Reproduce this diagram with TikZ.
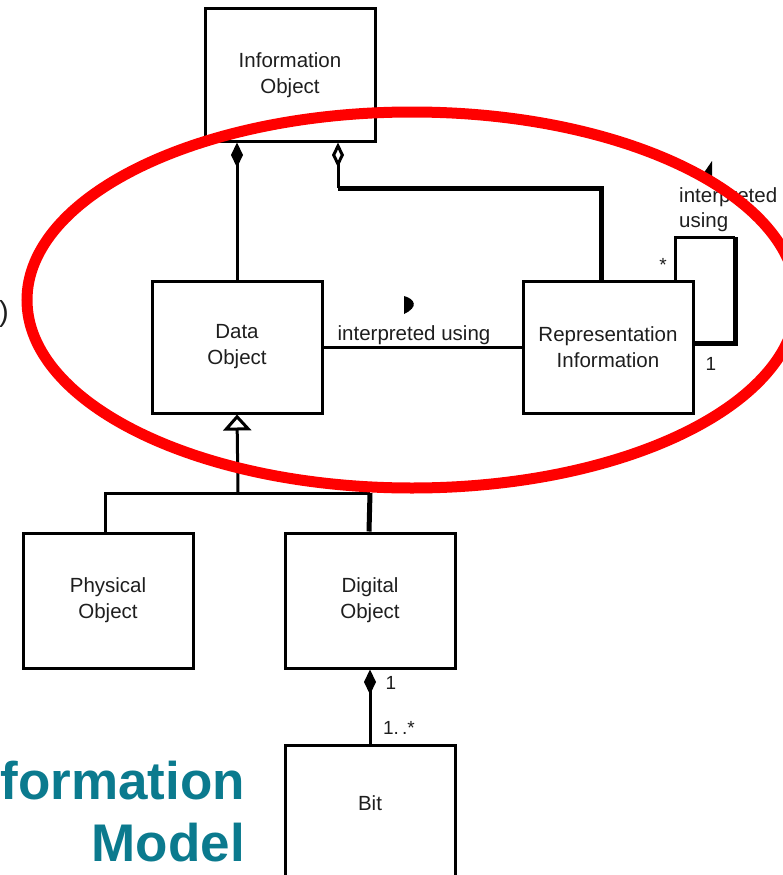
\documentclass[tikz,border=0pt]{standalone}
\usepackage{fontspec}
\setmainfont{Liberation Sans}
\usetikzlibrary{arrows.meta}
\definecolor{ringred}{RGB}{255,0,0}
\definecolor{titleteal}{RGB}{11,122,142}
\definecolor{inkgray}{RGB}{30,30,30}
\begin{document}
\begin{tikzpicture}[x=1pt,y=-1pt,
  cls/.style={draw, line width=3pt, minimum width=170pt, minimum height=132pt,
    align=center, inner sep=0pt, text=inkgray, font=\fontsize{20.5}{26}\selectfont},
  link/.style={line width=3pt},
  heavy/.style={line width=5pt},
  lbl/.style={inner sep=0pt, text=inkgray, font=\fontsize{20.5}{25}\selectfont},
  small/.style={inner sep=0pt, text=inkgray, font=\fontsize{19}{22}\selectfont},
  title/.style={inner sep=0pt, text=titleteal, font=\fontsize{53}{62}\selectfont\bfseries},
  compo/.style={-{Diamond[length=25pt,width=12pt]}},
  aggr/.style={-{Diamond[open,length=25pt,width=12pt]}},
  gen/.style={-{Triangle[open,length=16pt,width=28pt]}}]
\useasboundingbox (0,0) rectangle (782,875);

% classes
\node[cls] (io)  at (290,75)   {Information\\Object};
\node[cls] (do)  at (237,347)  {Data\\Object};
\node[cls] (ri)  at (608,347)  {Representation\\Information};
\node[cls, minimum height=135pt] (po)  at (108,600.5) {Physical\\Object};
\node[cls, minimum height=135pt] (dig) at (370,600.5) {Digital\\Object};
\node[cls, minimum height=140pt] (bit) at (370,815) {};
\node[lbl] (bittext) at (370,803) {Bit};

% Information Object is made of Data Object (composition)
\draw[link,compo] (do.north) -- (do.north |- io.south);

% Information Object aggregates Representation Information
\coordinate (aggtop) at ([xshift=48pt]io.south);
\coordinate (rinode) at ([xshift=-7pt]ri.north);
\coordinate (bend1) at (338,188);
\draw[heavy] (rinode) |- (bend1);
\draw[link,aggr] (bend1) -- (aggtop);

% Data Object interpreted using Representation Information
\draw[link] (do) -- (ri);
\node[lbl] (lblint) at (414,335) {interpreted using};
\fill (404,296) .. controls (415,299) and (419,307) .. (404,314) -- cycle;

% Representation Information interpreted using itself
\coordinate (loopa) at ([xshift=67pt]ri.north);
\coordinate (loopb) at (735,237);
\coordinate (loopc) at (ri.east |- 0,343);
\draw[link] (loopa) |- (loopb);
\draw[heavy] (loopb) |- (loopc);
\node[small] (mstar) at (663,265) {*};
\node[small] (mone) at (711,364) {1};
\node[lbl, anchor=west, align=left] (lblself) at (679,210) {interpreted\\using};
\fill (712,161) -- (712,177) -- (701,177) -- cycle;

% specialisations of Data Object
\coordinate (gj) at (238,493);
\coordinate (pj) at ([xshift=-3pt]po.north);
\draw[link,gen] (gj) -- (do.south);
\draw[link] (pj) |- (dig.north |- gj);
\draw[heavy] (dig.north |- gj) -- ([xshift=-1pt]dig.north);

% Digital Object made of Bits
\draw[link,compo] (bit.north) -- (dig.south);
\node[small] (bone) at (391,683) {1};
\node[small] (bmany) at (399,728) {1.\,.*};

% title fragment and bracket at the margin
\node[inner sep=0pt, anchor=base east, text=inkgray, font=\fontsize{29}{30}\selectfont] (paren) at (9,321) {)};
\node[title, anchor=base east] (ttl1) at (245,799) {formation};
\node[title, anchor=base east] (ttl2) at (245,861) {Model};

% highlighting ring
\draw[ringred, line width=11pt] (412,300) ellipse [x radius=385pt, y radius=188pt];
\end{tikzpicture}
\end{document}
